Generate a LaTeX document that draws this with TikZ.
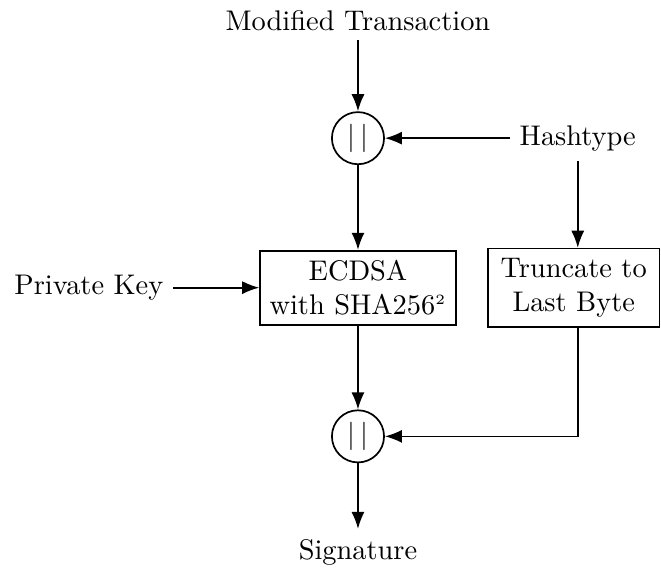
\documentclass[tikz,border=0pt]{standalone}
\usepackage{amsmath, amssymb}
\usepackage{tikz}
\usetikzlibrary{arrows.meta, positioning, calc}

\begin{document}
\begin{tikzpicture}[
    block/.style={rectangle, draw=black, semithick, align=center},
    concat/.style={circle, draw=black, semithick, minimum size=0.645cm, inner sep=0pt},
    label_text/.style={align=center},
    arrow/.style={-{Latex[length=6pt,width=4.6pt]}, semithick, draw=black}
]
    \useasboundingbox (-4.43,-3.52) rectangle (3.75,3.56);

    % Inputs
    \node[label_text] (tx) at (0, 3.31) {Modified Transaction};
    \node[label_text] (hashtype) at (2.72, 1.85) {Hashtype};
    \node[label_text] (privkey) at (-3.33, 0) {Private Key};

    % Processing
    \node[concat] (cat1) at (0, 1.85) {$|\,|$};
    \node[block] (ecdsa) at (0, 0) {ECDSA \\ with SHA256$^{\scriptscriptstyle 2}$};
    \node[block, inner xsep=4.5pt] (trunc) at (2.67, 0) {Truncate to \\ Last Byte};
    \node[concat] (cat2) at (0, -1.84) {$|\,|$};

    % Output
    \node[label_text] (sig) at (0, -3.27) {Signature};

    % Arrows
    \draw[arrow] (tx) -- (cat1);
    \draw[arrow] (hashtype) -- (cat1);
    \draw[arrow] (hashtype.south) -- (hashtype.south |- trunc.north);
    \draw[arrow] (cat1) -- (ecdsa);
    \draw[arrow] (privkey) -- (ecdsa);
    \draw[arrow] (ecdsa) -- (cat2);
    \draw[arrow] (hashtype.south |- trunc.south) |- (cat2);
    \draw[arrow] (cat2) -- (sig);

\end{tikzpicture}
\end{document}
